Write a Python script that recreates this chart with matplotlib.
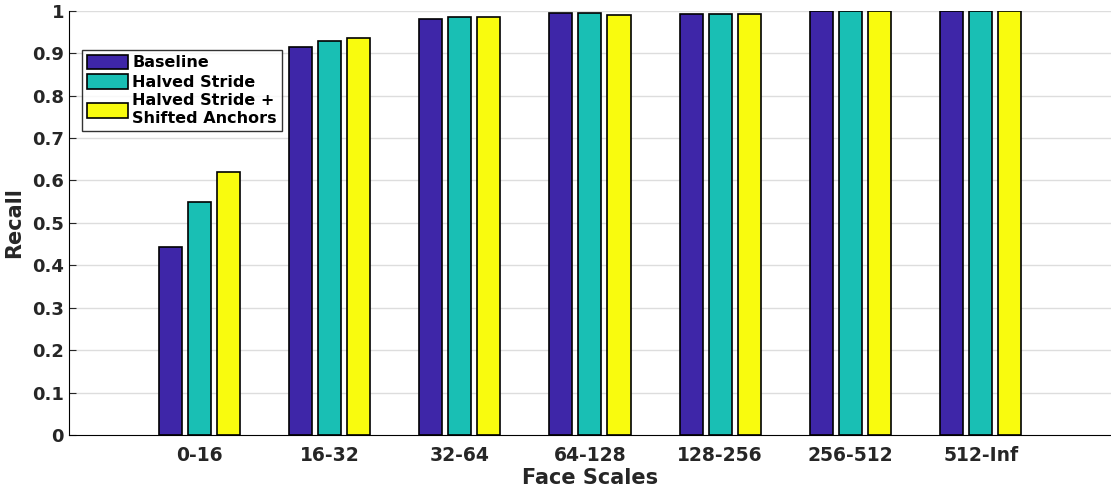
import numpy as np
import matplotlib.pyplot as plt

scales = ["0-16", "16-32", "32-64", "64-128", "128-256", "256-512", "512-Inf"]
baseline = [0.444, 0.914, 0.980, 0.995, 0.992, 1.0, 1.0]
halved = [0.550, 0.928, 0.985, 0.995, 0.992, 1.0, 1.0]
shifted = [0.619, 0.936, 0.985, 0.991, 0.992, 1.0, 1.0]
labels = ["Baseline", "Halved Stride", "Halved Stride +\nShifted Anchors"]
colors = ["#3E26A8", "#19BFB4", "#F9FB0E"]

plt.rcParams['font.family'] = 'DejaVu Sans'
plt.rcParams['font.weight'] = 'bold'

fig = plt.figure(figsize=(11.11, 4.91), dpi=100)
ax = fig.add_axes([0.062, 0.114, 0.938, 0.864])

yt = np.arange(0, 1.01, 0.1)
# grid drawn by hand so the ticks can sit above the bars (like matlab)
for v in yt[1:]:
	ax.axhline(v, color='#DDDDDD', linewidth=1.0, zorder=0.5)

x = np.arange(1, len(scales) + 1)
off = 0.223
w = 0.177
for i, vals in enumerate([baseline, halved, shifted]):
	ax.bar(x + (i - 1) * off, vals, w, color=colors[i], edgecolor='black', linewidth=1.2, label=labels[i], zorder=2)

ax.set_xlim(0, 8)
ax.set_ylim(0, 1)
ax.set_xticks(x)
ax.set_xticklabels(scales)
ax.set_yticks(yt)
ax.set_yticklabels(["0"] + ["%.1f" % v for v in yt[1:-1]] + ["1"])
ax.tick_params(direction='in', length=5, labelsize=13, colors='#262626', width=0.8)
ax.tick_params(axis='x', pad=8, labelsize=13.5)
for lab in ax.get_xticklabels() + ax.get_yticklabels():
	lab.set_fontweight('bold')
ax.spines['top'].set_visible(False)
ax.spines['right'].set_visible(False)
ax.set_xlabel("Face Scales", fontsize=15, fontweight='bold', color='#262626', labelpad=2)
ax.set_ylabel("Recall", fontsize=15, fontweight='bold', color='#262626', labelpad=6)

leg = ax.legend(loc='upper left', bbox_to_anchor=(0.0125, 0.908), fontsize=11.5, frameon=True, fancybox=False,
	edgecolor='black', handlelength=2.6, handleheight=1.05, handletextpad=0.25, borderpad=0.3,
	labelspacing=0.22, borderaxespad=0)
leg.get_frame().set_linewidth(1.0)
for t in leg.get_texts():
	t.set_fontweight('bold')

fig.savefig("out.png", dpi=100)
